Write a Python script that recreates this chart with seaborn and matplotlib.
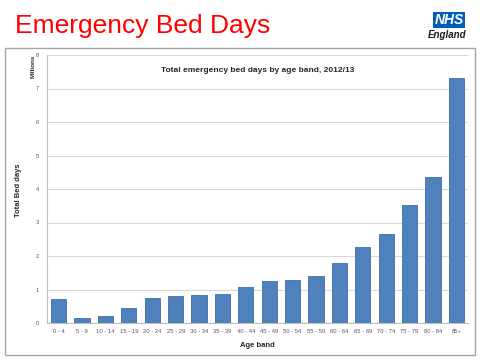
import matplotlib
matplotlib.use("Agg")
import matplotlib.pyplot as plt
import seaborn as sns
import pandas as pd
from matplotlib.patches import Rectangle

# Data (millions of bed days)
age_bands = ["0 - 4", "5 - 9", "10 - 14", "15 - 19", "20 - 24", "25 - 29", "30 - 34",
             "35 - 39", "40 - 44", "45 - 49", "50 - 54", "55 - 59", "60 - 64",
             "65 - 69", "70 - 74", "75 - 79", "80 - 84", "85+"]
bed_days = [0.72, 0.15, 0.20, 0.45, 0.75, 0.80, 0.85, 0.86, 1.07, 1.25, 1.28,
            1.40, 1.80, 2.27, 2.66, 3.53, 4.35, 7.30]
y_ticks = [0, 1, 2, 3, 4, 5, 6, 7, 8]

df = pd.DataFrame({"age": age_bands, "days": bed_days})

sns.set_style("white")
plt.rcParams["font.family"] = ["Liberation Sans", "DejaVu Sans"]

fig = plt.figure(figsize=(4.8, 3.6), dpi=100)
fig.patch.set_facecolor("white")

# outer frame
fig.patches.append(Rectangle((5 / 480, 5 / 360), 470 / 480, 307 / 360,
                             transform=fig.transFigure, fill=False,
                             edgecolor="#a6a6a6", linewidth=1.0))

ax = fig.add_axes([47 / 480, 37 / 360, 421 / 480, 268 / 360])
sns.barplot(data=df, x="age", y="days", color="#4F81BD", width=0.65,
            edgecolor="#3f6ea8", linewidth=0.6, saturation=1, ax=ax, zorder=3)

ax.set_ylim(0, 8)
ax.set_xlim(-0.5, len(age_bands) - 0.5)
ax.set_yticks(y_ticks)
ax.yaxis.grid(True, color="#d9d9d9", linewidth=0.8, zorder=0)
ax.set_axisbelow(True)
for s in ["top", "right"]:
    ax.spines[s].set_visible(False)
ax.spines["left"].set_color("#bfbfbf")
ax.spines["bottom"].set_color("#bfbfbf")
ax.spines["left"].set_linewidth(0.8)
ax.spines["bottom"].set_linewidth(0.8)

ax.tick_params(axis="both", labelsize=4.2, colors="#595959", length=2, width=0.6)
ax.tick_params(axis="x", length=0, pad=4)
ax.set_xticks([i + 0.5 for i in range(-1, len(age_bands))], minor=True)
ax.tick_params(axis="x", which="minor", length=3, color="#bfbfbf", width=0.6)

ax.set_xlabel("Age band", fontsize=5.5, fontweight="bold", labelpad=6)
ax.set_ylabel("")
ax.set_title("Total emergency bed days by age band, 2012/13", fontsize=6,
             fontweight="bold", pad=-12)

fig.text(18 / 480, 1 - 190 / 360, "Total Bed days", rotation=90, fontsize=5.5,
         fontweight="bold", ha="center", va="center")
fig.text(33 / 480, 1 - 66 / 360, "Millions", rotation=90, fontsize=4.5,
         fontweight="bold", ha="center", va="center")

# slide title
fig.text(15 / 480, 1 - 26 / 360, "Emergency Bed Days", color="#ff0000",
         fontsize=19, ha="left", va="center")

# NHS England logo
fig.text(449 / 480, 1 - 20 / 360, "NHS", color="white", fontsize=10,
         fontweight="bold", style="italic", ha="center", va="center",
         bbox=dict(boxstyle="square,pad=0.1", facecolor="#005EB8", edgecolor="none"))
fig.text(466 / 480, 1 - 35 / 360, "England", color="#1a1a1a", fontsize=7,
         fontweight="bold", style="italic", ha="right", va="center")

fig.savefig("out.png", dpi=100)
